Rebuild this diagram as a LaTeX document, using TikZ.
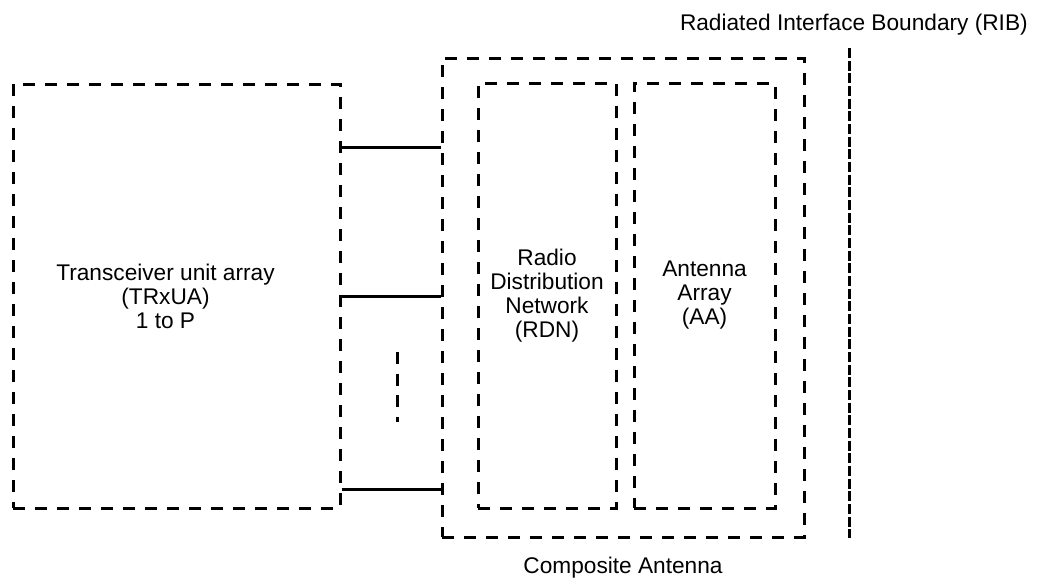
\documentclass[tikz,border=0pt]{standalone}
\usepackage{fontspec}
\setmainfont{Liberation Sans}
\usetikzlibrary{positioning}

\tikzset{
  dbox/.style={draw, rectangle, line width=2.25pt, dash pattern=on 9pt off 7.5pt,
    align=center, inner sep=0pt, font=\fontsize{17}{18}\selectfont},
  wire/.style={line width=2.25pt},
  lbl/.style={inner sep=0pt, align=center, font=\fontsize{17}{18}\selectfont}
}

\begin{document}
\begin{tikzpicture}[x=0.75pt, y=-0.75pt]
  \useasboundingbox (0,0) rectangle (1037,583);
  % boxes
  \node[dbox, minimum width=245.25pt, minimum height=318pt] (trxua) at (176.5,296) {};
  \node[lbl] (trxtxt) at (165.5,296) {Transceiver unit array\\(TRxUA)\\1 to P};
  \node[dbox, minimum width=271.5pt, minimum height=359.25pt] (comp) at (623,297.5) {};
  \node[dbox, minimum width=103.5pt, minimum height=318.75pt] (rdn) at (547,295.5)
    {Radio\\Distribution\\Network\\(RDN)};
  \node[dbox, minimum width=105.75pt, minimum height=318.75pt] (aa) at (704.5,295.5)
    {Antenna\\Array\\(AA)};
  % connections
  \foreach \y in {147,296,489}
    \draw[wire] (trxua.east |- 0,\y) -- (comp.west |- 0,\y);
  \coordinate (dotstop) at (397.5,352);
  \coordinate (dotsbot) at (397.5,422);
  \draw[line width=1.8pt, dash pattern=on 9pt off 7.3pt] (dotstop) -- (dotsbot);
  % boundary
  \coordinate (ribtop) at (849,48);
  \coordinate (ribbot) at (849,538);
  \draw[line width=2.25pt, dash pattern=on 7.5pt off 2pt] (ribtop) -- (ribbot);
  % labels
  \node[lbl, anchor=east] (riblbl) at (1028,25) {Radiated Interface Boundary (RIB)};
  \node[lbl] (complbl) at (623,568) {Composite Antenna};
\end{tikzpicture}
\end{document}
